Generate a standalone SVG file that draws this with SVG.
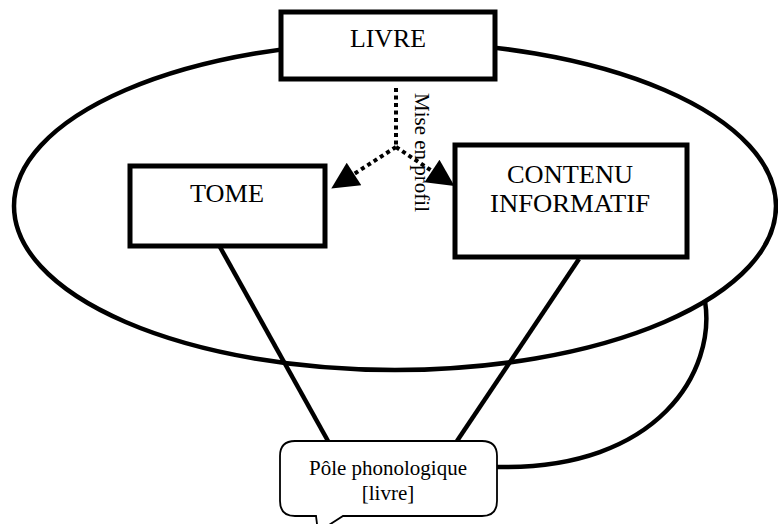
<svg xmlns="http://www.w3.org/2000/svg" width="778" height="524" viewBox="0 0 778 524">
<style>
.box{fill:#fff;stroke:#000;stroke-width:5}
.t{font-family:"Liberation Serif","Times New Roman",serif;fill:#000;text-anchor:middle}
.big{font-size:26px}
.small{font-size:21px}
.line{fill:none;stroke:#000;stroke-width:4.5}
.dot{fill:none;stroke:#000;stroke-width:4;stroke-dasharray:4 3.5}
</style>
<defs>
<marker id="ah" viewBox="0 0 10 10" refX="0" refY="5" markerWidth="30" markerHeight="27" markerUnits="userSpaceOnUse" orient="auto">
<path d="M0,0 L10,5 L0,10 z" fill="#000"/>
</marker>
</defs>
<g id="ellipse">
<ellipse cx="395" cy="206" rx="381" ry="164" fill="none" stroke="#000" stroke-width="4.5"/>
</g>
<g id="connectors">
<line class="line" x1="220" y1="247" x2="328" y2="441"/>
<line class="line" x1="579" y1="259" x2="457" y2="441"/>
<path class="line" d="M705 301 C716 370 660 470 497 467"/>
<path class="dot" d="M396 88 V147"/>
<path class="dot" d="M396 147 L354 174" marker-end="url(#ah)"/>
<path class="dot" d="M396 147 L432 171" marker-end="url(#ah)"/>
<text class="t" font-family="Liberation Serif, Times New Roman, serif" font-size="21" x="415" y="93" transform="rotate(90 415 93)" style="text-anchor:start">Mise en profil</text>
</g>
<g id="livre">
<rect class="box" x="281" y="12" width="214" height="67"/>
<text class="t big" font-family="Liberation Serif, Times New Roman, serif" x="388" y="47" textLength="76" lengthAdjust="spacingAndGlyphs">LIVRE</text>
</g>
<g id="tome">
<rect class="box" x="130" y="166" width="195" height="80"/>
<text class="t big" font-family="Liberation Serif, Times New Roman, serif" x="227" y="202" textLength="74" lengthAdjust="spacingAndGlyphs">TOME</text>
</g>
<g id="contenu">
<rect class="box" x="455" y="145" width="232" height="112"/>
<text class="t big" font-family="Liberation Serif, Times New Roman, serif" x="570" y="183" textLength="126" lengthAdjust="spacingAndGlyphs">CONTENU</text>
<text class="t big" font-family="Liberation Serif, Times New Roman, serif" x="570" y="212" textLength="160" lengthAdjust="spacingAndGlyphs">INFORMATIF</text>
</g>
<g id="pole">
<path d="M295 441 H482 Q497 441 497 456 V501 Q497 516 482 516 H343 L318 532 L316 516 H295 Q280 516 280 501 V456 Q280 441 295 441 Z" fill="#fff" stroke="#000" stroke-width="1.8"/>
<text class="t small" font-family="Liberation Serif, Times New Roman, serif" x="388" y="475">Pôle phonologique</text>
<text class="t small" font-family="Liberation Serif, Times New Roman, serif" x="388" y="500">[livre]</text>
</g>
</svg>
